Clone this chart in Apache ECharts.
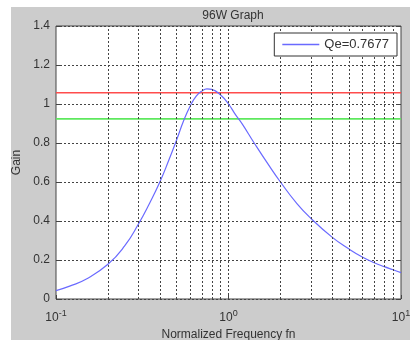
<!DOCTYPE html>
<html>
<head>
<meta charset="utf-8">
<script src="https://cdn.jsdelivr.net/npm/echarts@6/dist/echarts.min.js"></script>
<style>
  html, body { margin: 0; padding: 0; background: #fff; }
  #chart { width: 410px; height: 340px; }
</style>
</head>
<body>
<div id="chart"></div>
<script>
// normalized frequency / gain
var freq = [0.1, 0.12, 0.15, 0.2, 0.25, 0.3, 0.35, 0.4, 0.45, 0.5, 0.55, 0.6, 0.65, 0.7, 0.75,
            0.8, 0.9, 1.0, 1.1, 1.2, 1.4, 1.7, 2.0, 2.5, 3.0, 4.0, 5.0, 6.0, 7.0, 8.0, 9.0, 10];
var gain = [0.043, 0.066, 0.103, 0.178, 0.272, 0.383, 0.494, 0.6, 0.71, 0.815, 0.915, 0.99, 1.04, 1.066, 1.078,
            1.075, 1.046, 1.0, 0.944, 0.898, 0.804, 0.69, 0.6, 0.488, 0.414, 0.316, 0.256, 0.214, 0.186, 0.166, 0.15, 0.135];
var upperLimit = 1.058;
var lowerLimit = 0.924;
var gridX = [0.2, 0.3, 0.4, 0.5, 0.6, 0.7, 0.8, 0.9, 1, 2, 3, 4, 5, 6, 7, 8, 9];
var yTicks = [0, 1.4, 0.2];   // min, max, step

var curve = freq.map(function(f, i) { return [f, gain[i]]; });
var xEnds = [freq[0], freq[freq.length - 1]];

var chart = echarts.init(document.getElementById('chart'));
var dots = [2, 2];
var txt = '#333';

chart.setOption({
    backgroundColor: '#fff',
    animation: false,
    textStyle: { fontFamily: 'Liberation Sans, Arial, sans-serif' },
    graphic: [{
        type: 'rect', left: 11, top: 7, z: -10,
        shape: { width: 400, height: 334 },
        style: { fill: '#cccccc' }
    }],
    title: {
        text: '96W Graph',
        left: 228, top: 5, textAlign: 'center',
        textStyle: { fontSize: 12, fontWeight: 'normal', color: txt }
    },
    legend: {
        data: [{ name: 'Qe=0.7677', icon: 'rect' }],
        right: 13, top: 33, z: 20,
        padding: [5, 8, 5, 8],
        backgroundColor: '#fff',
        borderColor: '#333', borderWidth: 1,
        itemWidth: 37, itemHeight: 1.5, itemGap: 6,
        textStyle: { fontSize: 13, color: txt }
    },
    grid: {
        left: 56, top: 26, right: 9, bottom: 41,
        outerBoundsMode: 'none', containLabel: false,
        show: true, backgroundColor: '#fff', borderColor: '#444', borderWidth: 1
    },
    xAxis: {
        type: 'log', logBase: 10, min: xEnds[0], max: xEnds[1],
        name: 'Normalized Frequency fn', nameLocation: 'middle', nameGap: 30,
        nameTextStyle: { fontSize: 12, color: txt },
        axisLine: { show: false },
        axisTick: { inside: true, length: 4, lineStyle: { color: '#444' } },
        splitLine: { show: false },
        axisLabel: {
            margin: 10, color: txt,
            formatter: function(v) {
                return '{b|10}{e|' + Math.round(Math.log10(v)) + '}';
            },
            rich: {
                b: { fontSize: 12, color: txt, verticalAlign: 'bottom' },
                e: { fontSize: 9, color: txt, verticalAlign: 'top', padding: [0, 0, 6, 0] }
            }
        }
    },
    yAxis: [{
        type: 'value', min: yTicks[0], max: yTicks[1], interval: yTicks[2],
        name: 'Gain', nameLocation: 'middle', nameGap: 30,
        nameTextStyle: { fontSize: 12, color: txt },
        axisLine: { show: false },
        axisTick: { inside: true, length: 4, lineStyle: { color: '#444' } },
        axisLabel: { fontSize: 12, color: txt, margin: 6 },
        splitLine: { lineStyle: { type: dots, color: '#444', width: 1 } }
    }, {
        type: 'value', min: yTicks[0], max: yTicks[1], interval: yTicks[2], position: 'right',
        axisLine: { show: false },
        axisTick: { inside: true, length: 4, lineStyle: { color: '#444' } },
        axisLabel: { show: false },
        splitLine: { show: false }
    }],
    series: [{
        name: 'grid',
        type: 'line', data: [], z: 1, silent: true,
        markLine: {
            symbol: 'none', silent: true, animation: false,
            label: { show: false },
            lineStyle: { type: dots, color: '#444', width: 1 },
            data: gridX.map(function(v) { return { xAxis: v }; })
        }
    }, {
        name: 'upper',
        type: 'line', symbol: 'none', z: 3,
        lineStyle: { color: '#ff4d4d', width: 1.5 },
        data: xEnds.map(function(x) { return [x, upperLimit]; })
    }, {
        name: 'lower',
        type: 'line', symbol: 'none', z: 3,
        lineStyle: { color: '#5ee85e', width: 1.8 },
        data: xEnds.map(function(x) { return [x, lowerLimit]; })
    }, {
        name: 'Qe=0.7677',
        type: 'line', symbol: 'none', smooth: 0.5, z: 4,
        color: '#6a6aff',
        lineStyle: { color: '#6a6aff', width: 1.2 },
        data: curve
    }]
});
</script>
</body>
</html>
